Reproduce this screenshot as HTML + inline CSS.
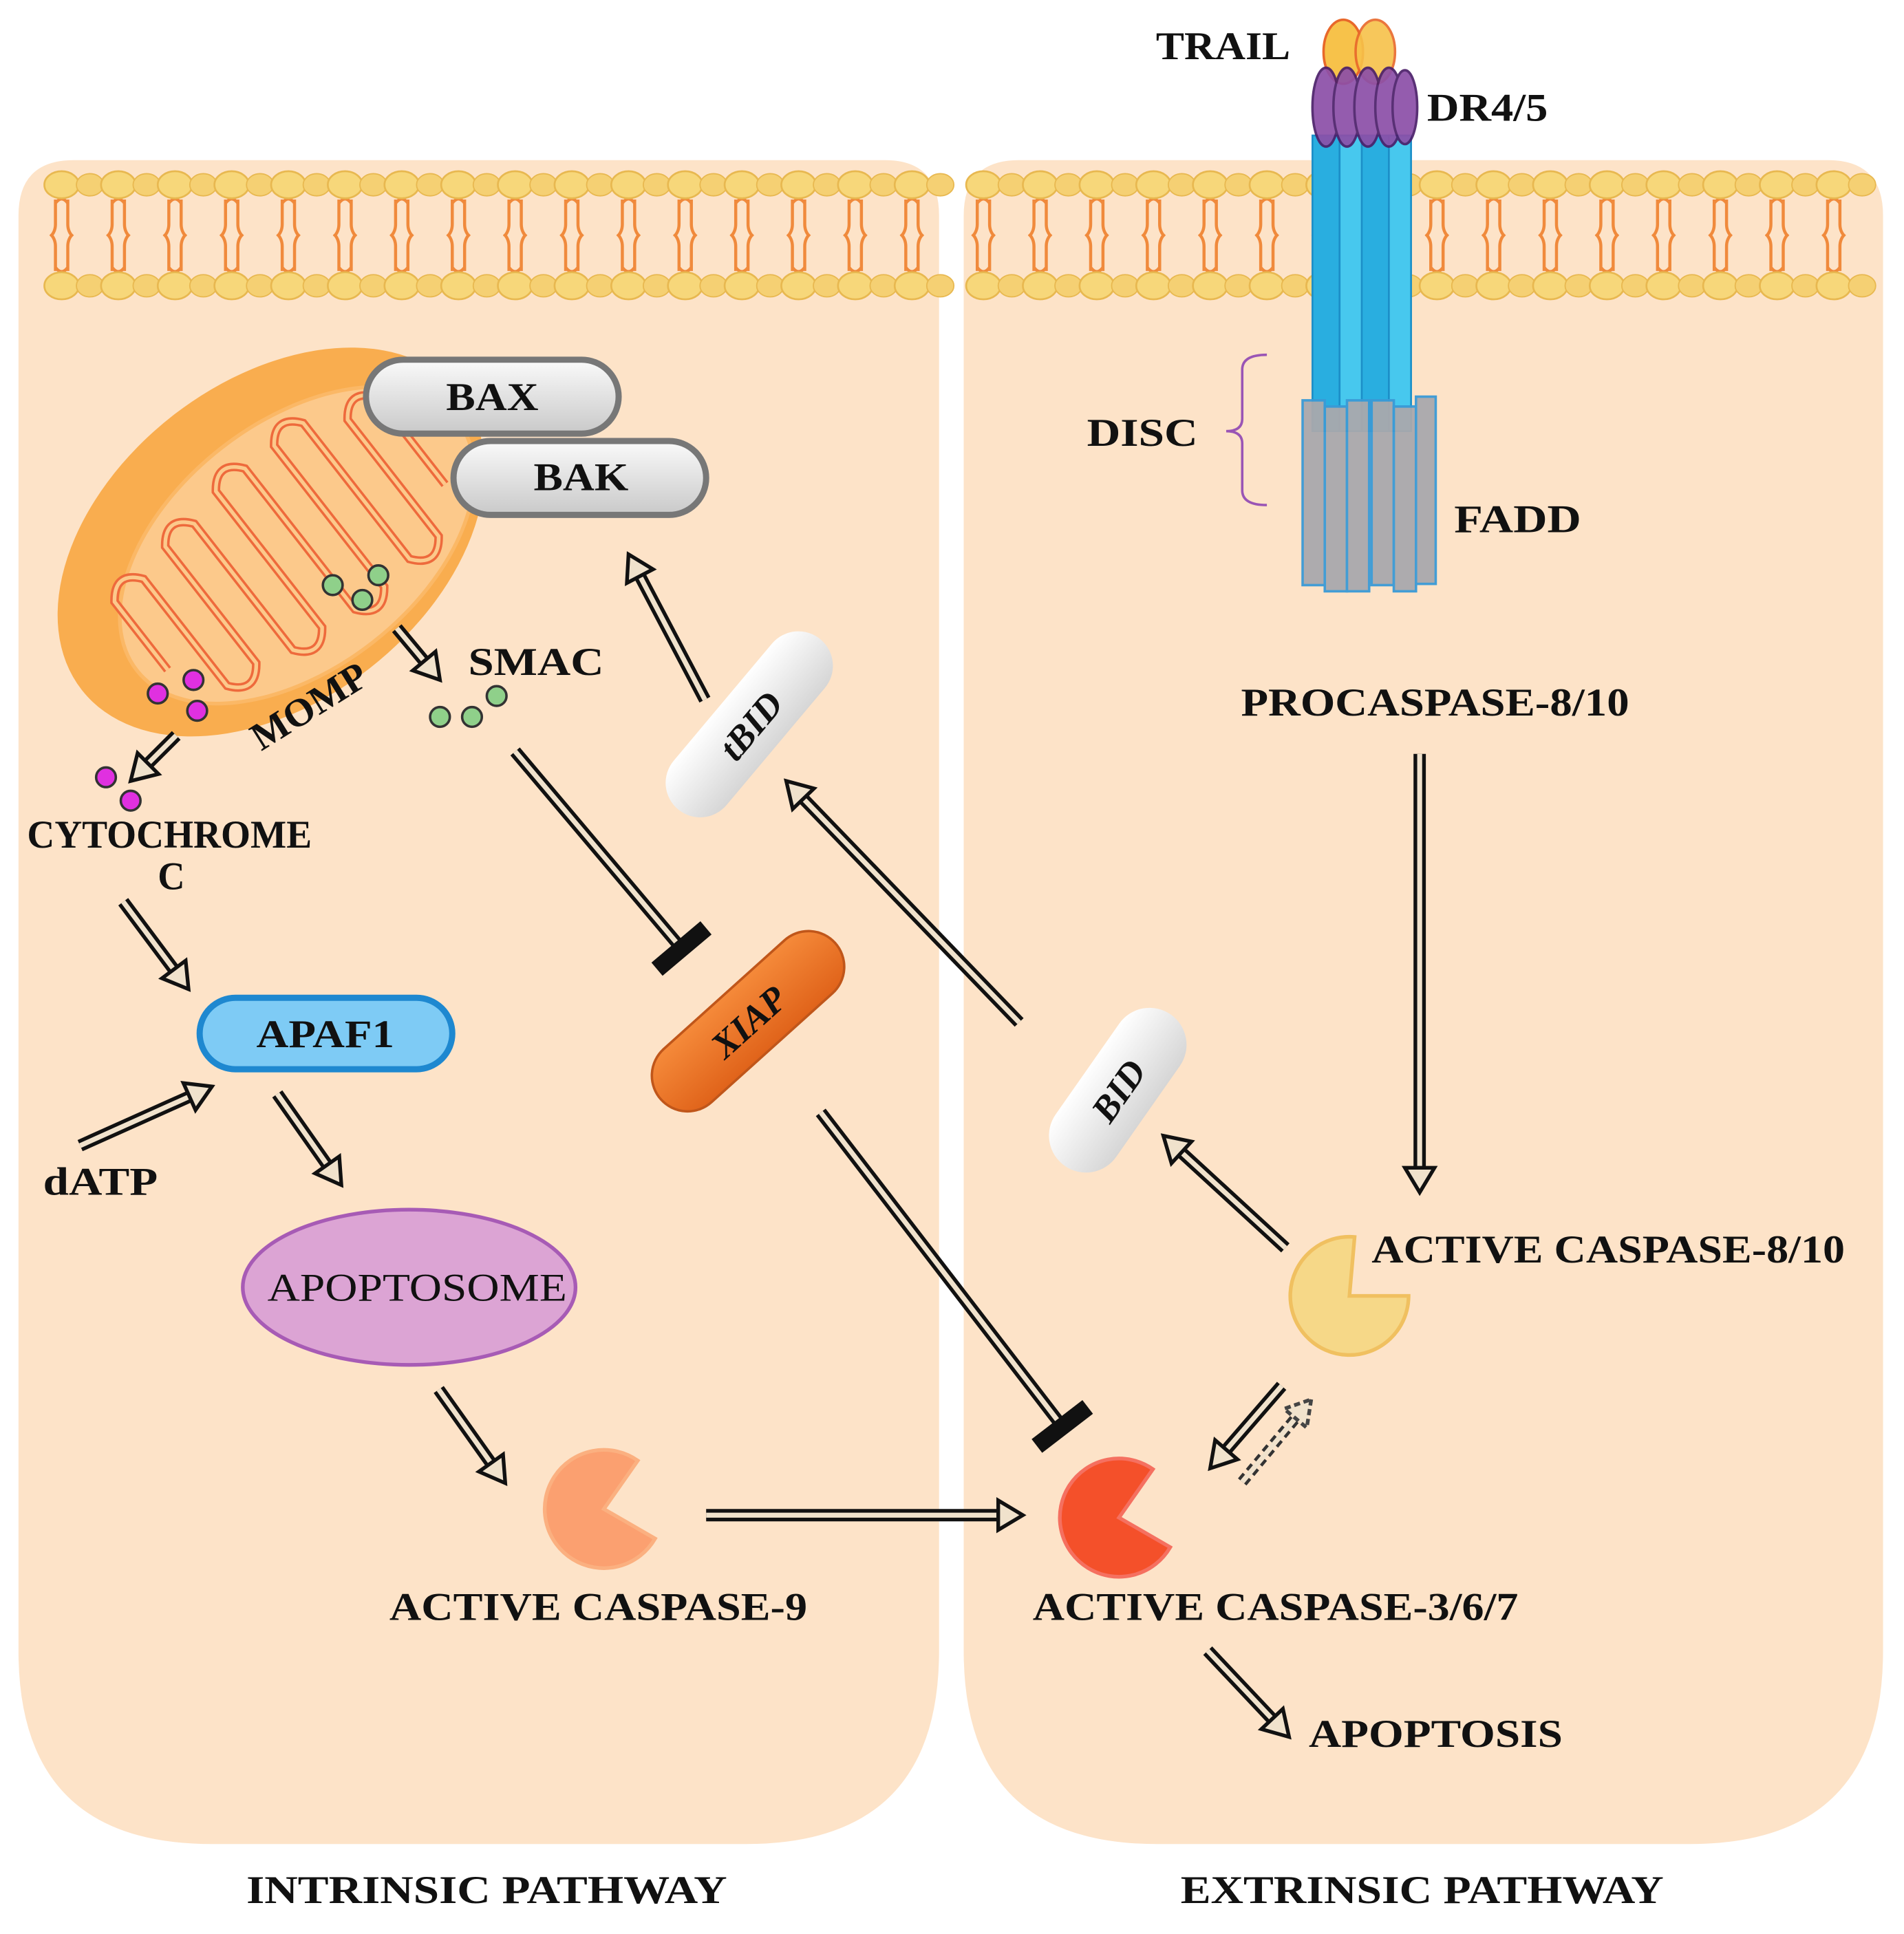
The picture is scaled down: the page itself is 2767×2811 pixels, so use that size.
<!DOCTYPE html>
<html><head><meta charset="utf-8">
<style>html,body{margin:0;padding:0;background:#fff}svg{display:block}
text{font-family:"Liberation Serif",serif;font-weight:bold;fill:#111}</style></head>
<body>
<svg id="s" width="2767" height="2811" viewBox="0 0 1545 1570" preserveAspectRatio="none" xmlns="http://www.w3.org/2000/svg">
<defs>
<linearGradient id="gg" x1="0" y1="0" x2="0" y2="1"><stop offset="0" stop-color="#fafafa"/><stop offset="1" stop-color="#c9c9c9"/></linearGradient>
<linearGradient id="wg" x1="0" y1="0" x2="0" y2="1"><stop offset="0" stop-color="#fff"/><stop offset="1" stop-color="#d6d6d6"/></linearGradient>
<linearGradient id="og" x1="0" y1="0" x2="0" y2="1"><stop offset="0" stop-color="#f58a3a"/><stop offset="1" stop-color="#e0631a"/></linearGradient>
</defs>
<!-- panels -->
<path d="M15 175 Q15 130 60 130 L718 130 Q762 130 762 175 L762 1340 Q762 1497 605 1497 L172 1497 Q15 1497 15 1340 Z" fill="#fde3c8"/>
<path d="M782 175 Q782 130 827 130 L1483 130 Q1528 130 1528 175 L1528 1340 Q1528 1497 1371 1497 L939 1497 Q782 1497 782 1340 Z" fill="#fde3c8"/>
<g id="mem"></g>
<!-- receptor -->
<g>
<rect x="1065" y="110" width="80" height="240" fill="#3cc0e8" opacity="0.85"/>
<rect x="1065" y="110" width="22" height="240" fill="#29aee0" stroke="#1c8fc8" stroke-width="1.5"/>
<rect x="1087" y="110" width="20" height="240" fill="#47c8ee" stroke="#1c8fc8" stroke-width="1.5"/>
<rect x="1105" y="110" width="22" height="240" fill="#29aee0" stroke="#1c8fc8" stroke-width="1.5"/>
<rect x="1127" y="110" width="18" height="240" fill="#47c8ee" stroke="#1c8fc8" stroke-width="1.5"/>
<g fill="#a9a9ad" stroke="#3a9ad6" stroke-width="2" opacity="0.95">
<rect x="1057" y="325" width="18" height="150"/><rect x="1075" y="330" width="18" height="150"/><rect x="1093" y="325" width="18" height="155"/>
<rect x="1113" y="325" width="18" height="150"/><rect x="1131" y="330" width="18" height="150"/><rect x="1149" y="322" width="16" height="152"/>
</g>
<ellipse cx="1090" cy="42" rx="16" ry="26" fill="#f7c24a" stroke="#e8682a" stroke-width="2"/>
<ellipse cx="1116" cy="42" rx="16" ry="26" fill="#f7c24a" stroke="#e8682a" stroke-width="2" opacity="0.9"/>
<g fill="#8c4fa8" stroke="#4b1f6a" stroke-width="2" opacity="0.92">
<ellipse cx="1076" cy="87" rx="11" ry="32"/><ellipse cx="1093" cy="87" rx="11" ry="32"/><ellipse cx="1110" cy="87" rx="11" ry="32"/><ellipse cx="1127" cy="87" rx="11" ry="32"/><ellipse cx="1140" cy="87" rx="10" ry="30"/>
</g>
</g>
<path d="M1028 288 Q1008 288 1008 300 L1008 340 Q1008 350 995 350 Q1008 350 1008 360 L1008 398 Q1008 410 1028 410" fill="none" stroke="#9a55b5" stroke-width="2"/>
<!-- mitochondrion -->
<g transform="rotate(-38 220 440)">
<ellipse cx="220" cy="440" rx="195" ry="130" fill="#f9ad4f"/>
<ellipse cx="235" cy="455" rx="165" ry="100" fill="#fcc98b" stroke="#fbb866" stroke-width="3"/>
<path d="M90 470 L90 400 Q105 380 120 400 L120 510 Q135 530 150 510 L150 390 Q165 370 180 390 L180 520 Q195 540 210 520 L210 380 Q225 360 240 380 L240 525 Q255 545 270 525 L270 380 Q285 360 300 380 L300 520 Q315 540 330 520 L330 400 Q345 380 360 400 L360 490" fill="none" stroke="#ee6a3c" stroke-width="7"/>
<path d="M90 470 L90 400 Q105 380 120 400 L120 510 Q135 530 150 510 L150 390 Q165 370 180 390 L180 520 Q195 540 210 520 L210 380 Q225 360 240 380 L240 525 Q255 545 270 525 L270 380 Q285 360 300 380 L300 520 Q315 540 330 520 L330 400 Q345 380 360 400 L360 490" fill="none" stroke="#fcc98b" stroke-width="3"/>
</g>
<rect x="297" y="292" width="205" height="60" rx="30" fill="url(#gg)" stroke="#777" stroke-width="5"/>
<rect x="368" y="358" width="205" height="60" rx="30" fill="url(#gg)" stroke="#777" stroke-width="5"/>
<!-- dots -->
<g stroke="#333" stroke-width="2">
<circle cx="270" cy="475" r="8" fill="#8fd08a"/><circle cx="307" cy="467" r="8" fill="#8fd08a"/><circle cx="294" cy="487" r="8" fill="#8fd08a"/>
<circle cx="357" cy="582" r="8" fill="#8fd08a"/><circle cx="383" cy="582" r="8" fill="#8fd08a"/><circle cx="403" cy="565" r="8" fill="#8fd08a"/>
<circle cx="128" cy="563" r="8" fill="#e030e0"/><circle cx="157" cy="552" r="8" fill="#e030e0"/><circle cx="160" cy="577" r="8" fill="#e030e0"/>
<circle cx="86" cy="631" r="8" fill="#e030e0"/><circle cx="106" cy="650" r="8" fill="#e030e0"/>
</g>
<!-- nodes -->
<rect x="162" y="810" width="205" height="58" rx="29" fill="#7ecbf5" stroke="#1e88d0" stroke-width="5"/>
<ellipse cx="332" cy="1045" rx="135" ry="63" fill="#dca4d4" stroke="#a75bb5" stroke-width="3"/>
<g transform="rotate(-50 608 588)"><rect x="518" y="560" width="180" height="56" rx="28" fill="url(#wg)"/><text x="608" y="600" text-anchor="middle" font-size="30" font-style="italic">tBID</text></g>
<g transform="rotate(-42 607 829)"><rect x="512" y="800" width="190" height="58" rx="29" fill="url(#og)" stroke="#c0561a" stroke-width="2"/><text x="607" y="840" text-anchor="middle" font-size="30" font-style="italic">XIAP</text></g>
<g transform="rotate(-55 907 885)"><rect x="832" y="855" width="150" height="60" rx="30" fill="url(#wg)"/><text x="907" y="896" text-anchor="middle" font-size="30" font-style="italic">BID</text></g>
<g id="pac"></g>
<g id="arr"></g>
<!-- labels -->
<g font-size="32">
<text x="938" y="48" textLength="109" lengthAdjust="spacingAndGlyphs">TRAIL</text>
<text x="1158" y="98" textLength="98" lengthAdjust="spacingAndGlyphs">DR4/5</text>
<text x="882" y="362" textLength="90" lengthAdjust="spacingAndGlyphs">DISC</text>
<text x="1180" y="432" textLength="103" lengthAdjust="spacingAndGlyphs">FADD</text>
<text x="362" y="333" textLength="75" lengthAdjust="spacingAndGlyphs">BAX</text>
<text x="433" y="398" textLength="77" lengthAdjust="spacingAndGlyphs">BAK</text>
<text x="380" y="548" textLength="110" lengthAdjust="spacingAndGlyphs">SMAC</text>
<text x="0" y="0" transform="translate(212 610) rotate(-32)" textLength="105" lengthAdjust="spacingAndGlyphs">MOMP</text>
<text x="22" y="688" textLength="231" lengthAdjust="spacingAndGlyphs">CYTOCHROME</text>
<text x="128" y="722" textLength="22" lengthAdjust="spacingAndGlyphs">C</text>
<text x="208" y="850" textLength="112" lengthAdjust="spacingAndGlyphs">APAF1</text>
<text x="35" y="970" textLength="93" lengthAdjust="spacingAndGlyphs">dATP</text>
<text x="217" y="1056" textLength="243" lengthAdjust="spacingAndGlyphs" style="font-weight:normal">APOPTOSOME</text>
<text x="1007" y="581" textLength="315" lengthAdjust="spacingAndGlyphs">PROCASPASE-8/10</text>
<text x="1113" y="1025" textLength="384" lengthAdjust="spacingAndGlyphs">ACTIVE CASPASE-8/10</text>
<text x="316" y="1315" textLength="339" lengthAdjust="spacingAndGlyphs">ACTIVE CASPASE-9</text>
<text x="838" y="1315" textLength="394" lengthAdjust="spacingAndGlyphs">ACTIVE CASPASE-3/6/7</text>
<text x="1062" y="1418" textLength="206" lengthAdjust="spacingAndGlyphs">APOPTOSIS</text>
<text x="200" y="1545" textLength="390" lengthAdjust="spacingAndGlyphs">INTRINSIC PATHWAY</text>
<text x="958" y="1545" textLength="392" lengthAdjust="spacingAndGlyphs">EXTRINSIC PATHWAY</text>
</g>
</svg>
<script>
var NS="http://www.w3.org/2000/svg";
function el(p,t,a){var e=document.createElementNS(NS,t);for(var k in a)e.setAttribute(k,a[k]);p.appendChild(e);return e;}
var mem=document.getElementById("mem");
function row(x0,x1){for(var x=x0;x<=x1;x+=46){
 var d="M"+(x-5)+" 162 L"+(x-5)+" 182 Q"+(x-5)+" 188 "+(x-9)+" 192 M"+(x+5)+" 162 L"+(x+5)+" 182 Q"+(x+5)+" 188 "+(x+9)+" 192 M"+(x-5)+" 165 Q"+x+" 158 "+(x+5)+" 165"+
 " M"+(x-5)+" 220 L"+(x-5)+" 200 Q"+(x-5)+" 194 "+(x-9)+" 190 M"+(x+5)+" 220 L"+(x+5)+" 200 Q"+(x+5)+" 194 "+(x+9)+" 190 M"+(x-5)+" 217 Q"+x+" 224 "+(x+5)+" 217";
 el(mem,"path",{d:d,fill:"none",stroke:"#f08a3c","stroke-width":2.5});
 el(mem,"ellipse",{cx:x,cy:150,rx:14,ry:11,fill:"#f7d77a",stroke:"#e8b850","stroke-width":1.5});
 el(mem,"ellipse",{cx:x,cy:232,rx:14,ry:11,fill:"#f7d77a",stroke:"#e8b850","stroke-width":1.5});
 el(mem,"ellipse",{cx:x+23,cy:150,rx:11,ry:9,fill:"#f5d073",stroke:"#e8b850","stroke-width":1});
 el(mem,"ellipse",{cx:x+23,cy:232,rx:11,ry:9,fill:"#f5d073",stroke:"#e8b850","stroke-width":1});
}}
row(50,748);row(798,1500);
var pac=document.getElementById("pac");
function pm(cx,cy,r,a1,a2,fill,st){var R=Math.PI/180;
 var p1=[cx+r*Math.cos(a1*R),cy+r*Math.sin(a1*R)],p2=[cx+r*Math.cos(a2*R),cy+r*Math.sin(a2*R)];
 el(pac,"path",{d:"M"+cx+" "+cy+" L"+p2[0]+" "+p2[1]+" A"+r+" "+r+" 0 1 1 "+p1[0]+" "+p1[1]+" Z",fill:fill,stroke:st,"stroke-width":3});}
pm(490,1225,48,-55,30,"#fba070","#fbb080");
pm(1095,1052,48,-85,0,"#f6d888","#f0c060");
pm(908,1232,48,-55,30,"#f4502a","#f57060");
var arr=document.getElementById("arr");
function A(x0,y0,x1,y1,kind,dash){var dx=x1-x0,dy=y1-y0,L=Math.hypot(dx,dy),ux=dx/L,uy=dy/L,nx=-uy,ny=ux;
 var h=kind=="T"?0:18,ex=x1-ux*h,ey=y1-uy*h;
 var o={x1:x0,y1:y0,x2:ex,y2:ey};
 if(dash){el(arr,"line",Object.assign({stroke:"#333","stroke-width":9,"stroke-dasharray":"6 4"},o));}
 else el(arr,"line",Object.assign({stroke:"#111","stroke-width":10},o));
 el(arr,"line",Object.assign({stroke:"#f0e2cc","stroke-width":4},o));
 if(kind=="T"){el(arr,"line",{x1:x1+nx*26,y1:y1+ny*26,x2:x1-nx*26,y2:y1-ny*26,stroke:"#111","stroke-width":14});}
 else{var pts=[x1,y1,ex-ux*2+nx*12,ey-uy*2+ny*12,ex-ux*2-nx*12,ey-uy*2-ny*12].join(" ");
 el(arr,"polygon",{points:pts,fill:"#f0e2cc",stroke:dash?"#444":"#111","stroke-width":3,"stroke-dasharray":dash?"5 3":"none"});}
}
A(572,568,510,450);A(322,510,357,552);A(143,597,106,634);A(100,732,153,803);A(65,930,172,882);
A(225,888,277,962);A(356,1128,410,1204);A(573,1230,830,1230);A(827,830,638,634);A(1152,612,1152,968);
A(1043,1013,944,922);A(1040,1125,982,1192);A(1008,1203,1064,1136,"A",true);A(980,1340,1046,1410);
A(418,610,553,770,"T");A(666,903,862,1158,"T");
</script>
</body></html>
